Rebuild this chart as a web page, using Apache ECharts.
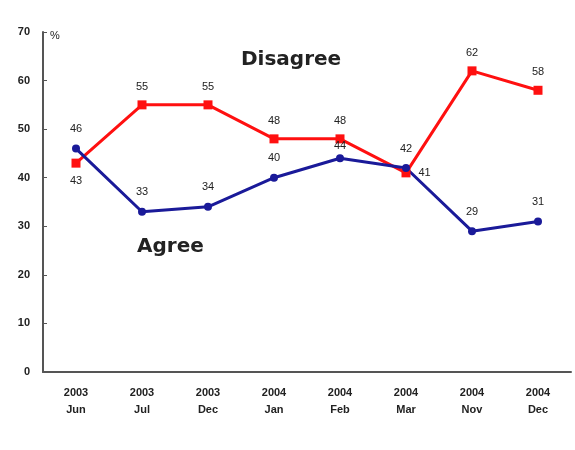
<!DOCTYPE html>
<html>
<head>
<meta charset="utf-8">
<script src="https://cdn.jsdelivr.net/npm/echarts@6/dist/echarts.min.js"></script>
<style>
  html, body { margin: 0; padding: 0; background: #fff; }
  #chart { width: 575px; height: 450px; }
</style>
</head>
<body>
<div id="chart"></div>
<script>
// 调查时间
var categories = ['2003\nJun', '2003\nJul', '2003\nDec', '2004\nJan', '2004\nFeb', '2004\nMar', '2004\nNov', '2004\nDec'];
var agree = [46, 33, 34, 40, 44, 42, 29, 31];
var disagree = [43, 55, 55, 48, 48, 41, 62, 58];

var chartDom = document.getElementById('chart');
var myChart = echarts.init(chartDom);

// 个别标签位置不同
var disagreeLabelPos = ['bottom', 'top', 'top', 'top', 'top', 'right', 'top', 'top'];

var option = {
  animation: false,
  textStyle: { fontFamily: 'Liberation Sans' },
  grid: { left: 43, right: 4, top: 32, bottom: 78 },
  graphic: [
    { type: 'text', left: 50, top: 30, style: { text: '%', fontSize: 11, fill: '#222' } },
    { type: 'text', left: 241, top: 50, style: { text: 'Disagree', fontSize: 20, fontWeight: 'bold', fill: '#222', fontFamily: 'DejaVu Sans' } },
    { type: 'text', left: 137, top: 237, style: { text: 'Agree', fontSize: 20, fontWeight: 'bold', fill: '#222', fontFamily: 'DejaVu Sans' } }
  ],
  xAxis: {
    type: 'category',
    data: categories,
    boundaryGap: true,
    axisLine: { lineStyle: { color: '#555', width: 2 } },
    axisTick: { inside: true, length: 4, lineStyle: { color: '#555' } },
    axisLabel: { color: '#222', fontSize: 11, fontWeight: 'bold', lineHeight: 17, margin: 12 }
  },
  yAxis: {
    type: 'value',
    min: 0,
    max: 70,
    interval: 10,
    splitLine: { show: false },
    axisLine: { show: true, lineStyle: { color: '#555', width: 2 } },
    axisTick: { show: true, inside: true, length: 4, lineStyle: { color: '#555' } },
    axisLabel: { color: '#222', fontSize: 11, fontWeight: 'bold', margin: 13 }
  },
  series: [
    {
      name: 'Disagree',
      type: 'line',
      data: disagree.map(function (v, i) {
        return { value: v, label: { position: disagreeLabelPos[i] } };
      }),
      symbol: 'rect',
      symbolSize: 9,
      lineStyle: { color: '#ff1010', width: 3 },
      itemStyle: { color: '#ff1010' },
      label: { show: true, color: '#222', fontSize: 11, distance: 8 }
    },
    {
      name: 'Agree',
      type: 'line',
      z: 3,
      data: agree.map(function (v, i) {
        // Feb 的标签靠近点
        return i === 4 ? { value: v, label: { distance: 3 } } : v;
      }),
      symbol: 'circle',
      symbolSize: 8,
      lineStyle: { color: '#1a1a99', width: 3 },
      itemStyle: { color: '#1a1a99' },
      label: { show: true, position: 'top', color: '#222', fontSize: 11, distance: 10 }
    }
  ]
};
option && myChart.setOption(option);
</script>
</body>
</html>
